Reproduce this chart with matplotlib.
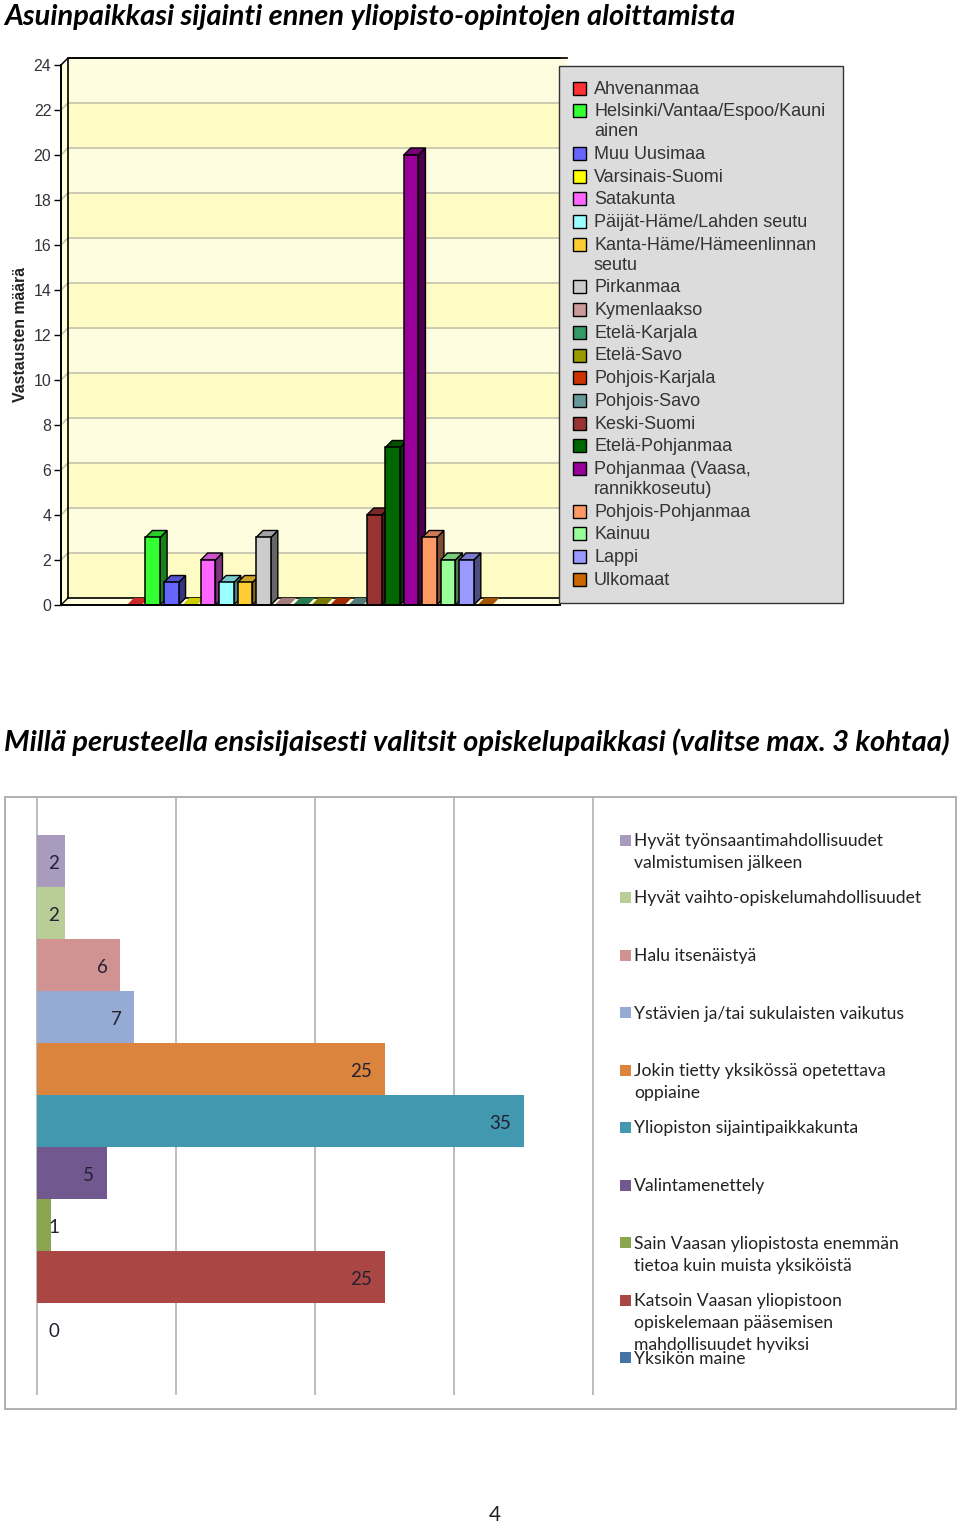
import matplotlib
matplotlib.use('Agg')
import matplotlib.pyplot as plt
from matplotlib.patches import Polygon, Rectangle

W, H = 960, 1525

title_top = 'Asuinpaikkasi sijainti ennen yliopisto-opintojen aloittamista'
title_bottom = 'Millä perusteella ensisijaisesti valitsit opiskelupaikkasi (valitse max. 3 kohtaa)'

regions = ['Ahvenanmaa', 'Helsinki/Vantaa/Espoo/Kauni\nainen', 'Muu Uusimaa', 'Varsinais-Suomi',
           'Satakunta', 'Päijät-Häme/Lahden seutu', 'Kanta-Häme/Hämeenlinnan\nseutu', 'Pirkanmaa',
           'Kymenlaakso', 'Etelä-Karjala', 'Etelä-Savo', 'Pohjois-Karjala', 'Pohjois-Savo',
           'Keski-Suomi', 'Etelä-Pohjanmaa', 'Pohjanmaa (Vaasa,\nrannikkoseutu)', 'Pohjois-Pohjanmaa',
           'Kainuu', 'Lappi', 'Ulkomaat']
region_counts = [0, 3, 1, 0, 2, 1, 1, 3, 0, 0, 0, 0, 0, 4, 7, 20, 3, 2, 2, 0]
region_colors = ['#ff3333', '#33ff33', '#6666ff', '#ffff00', '#ff66ff', '#99ffff', '#ffcc33', '#cccccc',
                 '#cc9999', '#339966', '#999900', '#cc3300', '#669999', '#993333', '#006600', '#990099',
                 '#ff9966', '#99ff99', '#9999ff', '#cc6600']
y_ticks = list(range(0, 25, 2))

reasons = ['Hyvät työnsaantimahdollisuudet\nvalmistumisen jälkeen', 'Hyvät vaihto-opiskelumahdollisuudet',
           'Halu itsenäistyä', 'Ystävien ja/tai sukulaisten vaikutus',
           'Jokin tietty yksikössä opetettava\noppiaine', 'Yliopiston sijaintipaikkakunta', 'Valintamenettely',
           'Sain Vaasan yliopistosta enemmän\ntietoa kuin muista yksiköistä',
           'Katsoin Vaasan yliopistoon\nopiskelemaan pääsemisen\nmahdollisuudet hyviksi', 'Yksikön maine']
reason_counts = [2, 2, 6, 7, 25, 35, 5, 1, 25, 0]
reason_colors = ['#a99bbd', '#b9cd96', '#d19392', '#95abd4', '#db843d', '#4198af', '#71588f', '#89a54e',
                 '#aa4643', '#4572a7']
grid_values = [0, 10, 20, 30, 40]

TITLE_FONT = 'Lato'
fig = plt.figure(figsize=(W / 100, H / 100), dpi=100, facecolor='white')


def px_axes(left, top, right, bottom):
    return fig.add_axes([left / W, 1 - bottom / H, (right - left) / W, (bottom - top) / H])


def darker(color, k):
    r, g, b = matplotlib.colors.to_rgb(color)
    return (r * k, g * k, b * k)


# top chart, 3d look done by hand
ax = px_axes(61, 65, 560, 605)
ax.set_xlim(-3.97, 23.07)
ax.set_ylim(0, 24)
ax.patch.set_visible(False)
dx, dy = 7 / 18.45, 7 / 22.5
x0, x1 = ax.get_xlim()

# floor and side wall
ax.add_patch(Polygon([(x0, 0), (x0 + dx, dy), (x1, dy), (x1, 0)], fc='#ffffe0', ec='none', zorder=1))
ax.add_patch(Polygon([(x0, 0), (x0 + dx, dy), (x0 + dx, 24 + dy), (x0, 24)], fc='#ffffd8', ec='none', zorder=1))
for i in range(0, 24, 2):
    band = '#fffde0' if i % 4 == 2 else '#fffbc4'
    ax.add_patch(Rectangle((x0 + dx, i + dy), x1 - x0, 2, fc=band, ec='none', zorder=1, clip_on=False))
for t in y_ticks[1:]:
    ax.plot([x0, x0 + dx, x1 + dx], [t, t + dy, t + dy], color='#c8c6b0', lw=1.3, zorder=2, clip_on=False)
# wall outline
ax.plot([x0 + dx, x0 + dx, x1 + dx], [dy, 24 + dy, 24 + dy], color='black', lw=1.2, zorder=3, clip_on=False)
ax.plot([x0, x0 + dx, x1], [24, 24 + dy, 24 + dy], color='black', lw=1, zorder=3, clip_on=False)
ax.plot([x0 + dx, x1], [dy, dy], color='black', lw=1.2, zorder=3)
ax.plot([x0, x0 + dx], [0, dy], color='black', lw=1, zorder=3)

bar_w = 0.8
for i, (v, c) in enumerate(zip(region_counts, region_colors)):
    z = 4 + i
    l, r = i - bar_w / 2, i + bar_w / 2
    if v > 0:
        ax.add_patch(Polygon([(r, 0), (r + dx, dy), (r + dx, v + dy), (r, v)], fc=darker(c, 0.5), ec='black',
                             lw=1, zorder=z, clip_on=False))
    ax.add_patch(Polygon([(l, v), (l + dx, v + dy), (r + dx, v + dy), (r, v)], fc=darker(c, 0.8),
                         ec='black' if v > 0 else 'none', lw=1, zorder=z, clip_on=False))
    if v > 0:
        ax.bar(i, v, width=bar_w, color=c, edgecolor='black', linewidth=1.1, zorder=z + 0.5, clip_on=False)

for s in ['top', 'right']:
    ax.spines[s].set_visible(False)
ax.spines['left'].set_linewidth(1.4)
ax.spines['bottom'].set_linewidth(1.4)
ax.spines['bottom'].set_zorder(40)
ax.set_xticks([])
ax.set_yticks(y_ticks)
ax.tick_params(axis='y', length=5, width=1, pad=2, labelsize=11.4, labelcolor='#333333',
               labelfontfamily='Liberation Sans')
ax.set_ylabel('Vastausten määrä', fontsize=11.4, fontweight='bold', family='Liberation Sans', color='#222222')
ax.yaxis.set_label_coords(-33 / 499, 0.5)

# bottom chart
ax2 = px_axes(5, 797, 956, 1409)
scale_x = 13.9
ax2.set_xlim((5 - 37) / scale_x, (956 - 37) / scale_x)
ax2.set_ylim((1409 - 861) / 52, (797 - 861) / 52)
ax2.vlines(grid_values, (797 - 861) / 52, (1395 - 861) / 52, color='#b0b0b0', lw=1.2, zorder=1)
ys = list(range(len(reasons)))
ax2.barh(ys, reason_counts, height=1.0, color=reason_colors, zorder=2)
for y, v in zip(ys, reason_counts):
    if v <= 2:
        ax2.text(1.22, y + 0.05, str(v), ha='center', va='center', fontsize=13.5, family=TITLE_FONT, color='#222233', zorder=3)
    else:
        ax2.text(v - 0.92, y + 0.05, str(v), ha='right', va='center', fontsize=13.5, family=TITLE_FONT, color='#222233', zorder=3)
ax2.set_xticks([])
ax2.set_yticks([])
for s in ax2.spines.values():
    s.set_color('#b0b0b0')
    s.set_linewidth(1.4)

# overlay in pixel coordinates for legends and headings
ov = fig.add_axes([0, 0, 1, 1], zorder=50)
ov.set_xlim(0, W)
ov.set_ylim(H, 0)
ov.axis('off')

ov.text(4, 16.5, title_top, fontsize=20.9, fontweight='bold', fontstyle='italic', family=TITLE_FONT,
        va='center', color='black')
ov.text(4, 742, title_bottom, fontsize=21.0, fontweight='bold', fontstyle='italic', family=TITLE_FONT,
        va='center', color='black')
ov.text(495, 1515, '4', fontsize=15, family=TITLE_FONT, ha='center', va='center', color='#222222')

ov.add_patch(Rectangle((559, 66), 284, 537, fc='#dcdcdc', ec='#333333', lw=1))
y = 88
for name, c in zip(regions, region_colors):
    ov.add_patch(Rectangle((573, y - 6.5), 13, 13, fc=c, ec='black', lw=1))
    lines = name.split('\n')
    for k, line in enumerate(lines):
        ov.text(594, y + 1 + 20 * k, line, fontsize=13, family='Liberation Sans', va='center', color='#333333')
    y += 22.7 + 20 * (len(lines) - 1)

y = 840
for name, c in zip(reasons, reason_colors):
    ov.add_patch(Rectangle((620, y - 5.5), 11, 11, fc=c, ec='none'))
    lines = name.split('\n')
    for k, line in enumerate(lines):
        ov.text(634, y + 1 + 22 * k, line, fontsize=12.6, family=TITLE_FONT, va='center', color='#222222')
    y += 57.5

fig.savefig('out.png', dpi=100)
